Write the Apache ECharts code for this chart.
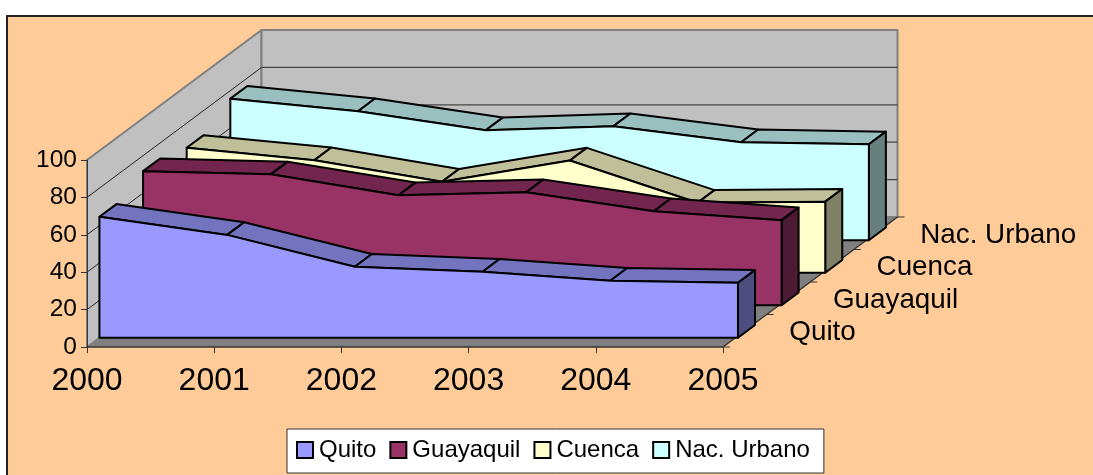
<!DOCTYPE html>
<html><head><meta charset="utf-8">
<style>html,body{margin:0;padding:0;background:#fff}#c{width:1093px;height:475px}</style>
<script src="https://cdn.jsdelivr.net/npm/echarts@6/dist/echarts.min.js"></script>
</head><body><div id="c"></div>
<script>
const years = [2000, 2001, 2002, 2003, 2004, 2005];
const seriesNames = ['Quito', 'Guayaquil', 'Cuenca', 'Nac. Urbano'];
const quito = [64.7, 55, 38, 35.3, 30.5, 29.4];
const guayaquil = [71.7, 70, 58.8, 60.4, 50.3, 45.5];
const cuenca = [66.8, 60.2, 48.7, 60, 37.4, 38];
const nacUrbano = [75.7, 69, 58.8, 61, 52.4, 51.3];
const yTicks = [0, 20, 40, 60, 80, 100];

const valuesList = [quito, guayaquil, cuenca, nacUrbano];
const faceColors = ['#9999FF', '#993366', '#FFFFCC', '#CCFFFF'];
const topColors = ['#7373BF', '#73264D', '#BFBF99', '#99BFBF'];
const sideColors = ['#4D4D80', '#4D1A33', '#808066', '#668080'];
const FONT = '"Liberation Sans", Arial, sans-serif';

// oblique depth: one series slot expressed in axis units
const SLOT_X = 0.343, SLOT_Y = 17.38;
const GAP = 0.285, BODY = 0.39;
const STRETCH = 1.004;
const N = seriesNames.length;

function pt(api, x, y, d) { return api.coord([x + d * SLOT_X, y + d * SLOT_Y]); }
function ps(api, x, y, d) { return pt(api, years[0] + (x - years[0]) * STRETCH, y, d); }
function poly(points, fill, stroke, w) {
  return { type: 'polygon', shape: { points }, style: { fill, stroke, lineWidth: w, lineJoin: 'round' } };
}
function line(a, b, stroke, w) {
  return { type: 'line', shape: { x1: a[0], y1: a[1], x2: b[0], y2: b[1] }, style: { stroke, lineWidth: w } };
}

function renderWalls(params, api) {
  const x0 = years[0], x1 = years[years.length - 1], y0 = yTicks[0], y1 = yTicks[yTicks.length - 1];
  const kids = [];
  kids.push(poly([pt(api, x0, y0, 0), pt(api, x1, y0, 0), pt(api, x1, y0, N), pt(api, x0, y0, N)], '#808080', null, 0));
  kids.push(poly([pt(api, x0, y0, 0), pt(api, x0, y1, 0), pt(api, x0, y1, N), pt(api, x0, y0, N)], '#C0C0C0', '#808080', 2));
  kids.push(poly([pt(api, x0, y0, N), pt(api, x0, y1, N), pt(api, x1, y1, N), pt(api, x1, y0, N)], '#C0C0C0', '#808080', 2));
  yTicks.forEach(t => {
    if (t === y0 || t === y1) return;
    kids.push(line(pt(api, x0, t, 0), pt(api, x0, t, N), '#222', 1));
    kids.push(line(pt(api, x0, t, N), pt(api, x1, t, N), '#444', 1.2));
  });
  kids.push(line(pt(api, x0, y0, N), pt(api, x1, y0, N), '#808080', 1));
  for (let i = 0; i <= N; i++) {
    const p = pt(api, x1, y0, i);
    kids.push(line(p, [p[0] + 7, p[1]], '#333', 1));
  }
  kids.push(line(pt(api, x1, y0, 0), pt(api, x1, y0, N), '#333', 1.5));
  seriesNames.forEach((name, i) => {
    const p = pt(api, x1, y0, i + 0.5);
    kids.push({ type: 'text', style: { text: name, x: p[0] + 44.5, y: p[1] + 2, fill: '#000', font: '27.8px ' + FONT, textAlign: 'left', textVerticalAlign: 'middle' } });
  });
  return { type: 'group', children: kids };
}

function makeRender(idx) {
  return function (params, api) {
    const i = params.dataIndex;
    const vals = valuesList[idx];
    const x = api.value(0), v = api.value(1);
    const f = idx + GAP, b = idx + GAP + BODY;
    const kids = [];
    if (i < years.length - 1) {
      const nx = years[i + 1], nv = vals[i + 1];
      kids.push(poly([ps(api, x, v, f), ps(api, nx, nv, f), ps(api, nx, nv, b), ps(api, x, v, b)], topColors[idx], '#000', 2));
    } else {
      const last = years.length - 1;
      kids.push(poly([ps(api, x, v, f), ps(api, x, v, b), ps(api, x, 0, b), ps(api, x, 0, f)], sideColors[idx], '#000', 2));
      const front = years.map((yr, k) => ps(api, yr, vals[k], f));
      front.push(ps(api, years[last], 0, f), ps(api, years[0], 0, f));
      kids.push(poly(front, faceColors[idx], '#000', 2));
    }
    return { type: 'group', children: kids };
  };
}

const seriesList = [{
  type: 'custom', name: 'walls', silent: true, renderItem: renderWalls,
  data: [[years[0], 0]], encode: { x: 0, y: 1 }, z: 1
}];
for (let s = N - 1; s >= 0; s--) {
  seriesList.push({
    type: 'custom', name: seriesNames[s], renderItem: makeRender(s),
    data: years.map((y, k) => [y, valuesList[s][k]]),
    encode: { x: 0, y: 1 }, z: 2 + (N - s),
    itemStyle: { color: faceColors[s], borderColor: '#000', borderWidth: 2 }
  });
}

const chart = echarts.init(document.getElementById('c'), null, { renderer: 'canvas' });
chart.setOption({
  animation: false,
  backgroundColor: '#fff',
  textStyle: { fontFamily: FONT },
  graphic: { elements: [{ type: 'rect', z: -10, shape: { x: 7, y: 16, width: 1100, height: 480 }, style: { fill: '#FFCC99', stroke: '#222', lineWidth: 2 } }] },
  grid: { left: 87, right: 370, top: 160, bottom: 128, containLabel: false },
  xAxis: {
    type: 'value', min: years[0], max: years[years.length - 1], interval: 1, z: 9,
    axisLine: { show: true, lineStyle: { color: '#333', width: 1.5 } },
    axisTick: { show: true, length: 6, lineStyle: { color: '#333' } },
    axisLabel: { color: '#000', fontSize: 32, margin: 18, fontFamily: FONT, formatter: v => String(v), showMinLabel: true, showMaxLabel: true, hideOverlap: false },
    splitLine: { show: false }
  },
  yAxis: {
    type: 'value', min: yTicks[0], max: yTicks[yTicks.length - 1], interval: 20, z: 9,
    axisLine: { show: true, lineStyle: { color: '#333', width: 1 } },
    axisTick: { show: true, length: 6, lineStyle: { color: '#333' } },
    axisLabel: { color: '#000', fontSize: 24.5, margin: 10, fontFamily: FONT },
    splitLine: { show: false }
  },
  legend: {
    show: true, data: seriesNames, left: 287, top: 429, orient: 'horizontal', icon: 'rect',
    itemWidth: 16, itemHeight: 16, itemGap: 13, selectedMode: false,
    padding: [9, 14, 11, 9], backgroundColor: '#fff', borderColor: '#333', borderWidth: 1, borderRadius: 0,
    textStyle: { color: '#000', fontSize: 24, fontFamily: FONT, padding: [0, 0, 4, 1] }
  },
  series: seriesList
});
</script></body></html>
